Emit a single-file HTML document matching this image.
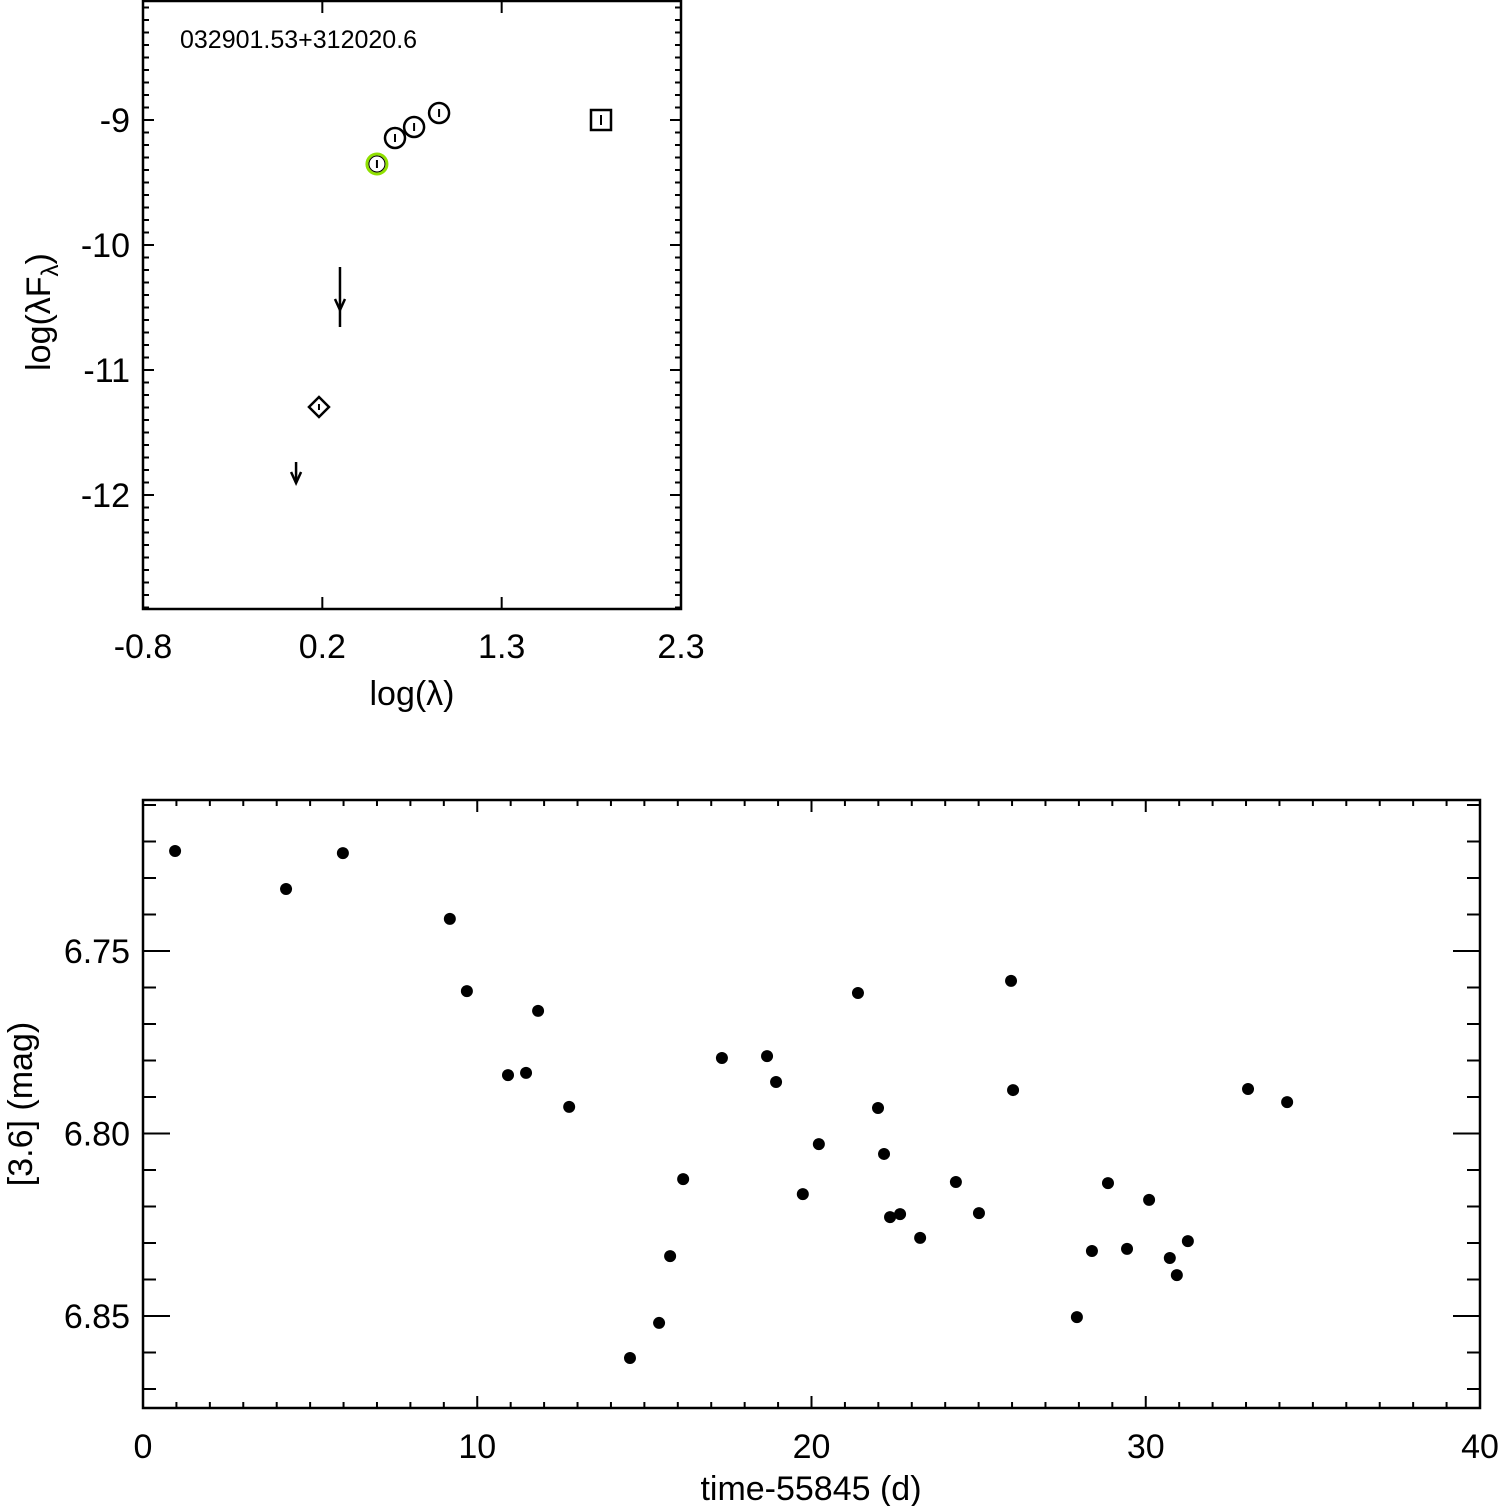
<!DOCTYPE html>
<html><head><meta charset="utf-8"><style>
html,body{margin:0;padding:0;background:#fff;}
svg{display:block;font-family:"Liberation Sans",sans-serif;}
</style></head><body>
<svg id="chart" width="1500" height="1506" viewBox="0 0 1500 1506">
<g id="sedPanel"></g>
<g id="lcPanel"></g>
</svg>
<script>
// SED panel data
const sedCircleX = [0.652, 0.762, 0.906];
const sedCircleY = [-9.144, -9.056, -8.944];
const sedGreenX = [0.548];
const sedGreenY = [-9.352];
const sedSquareX = [1.839];
const sedSquareY = [-9.0];
const sedDiamondX = [0.214];
const sedDiamondY = [-11.296];
const sedArrowX = [0.335, 0.082];
const sedArrowTop = [-10.176, -11.736];
const sedArrowBottom = [-10.656, -11.904];
const sedArrowHead = [-10.52, -11.904];
const sedXTicks = [-0.8, 0.2333, 1.2667, 2.3];
const sedXTickLabels = ["-0.8", "0.2", "1.3", "2.3"];
const sedYTicks = [-9, -10, -11, -12];
const sedYTickLabels = ["-9", "-10", "-11", "-12"];
// Light curve data
const lcTime = [0.96,4.28,5.98,9.18,9.69,11.82,10.92,11.46,12.75,14.57,15.44,15.77,16.16,17.32,18.67,18.94,19.74,20.22,21.39,21.99,22.17,22.35,22.65,23.25,24.32,25.01,25.97,26.03,27.94,28.39,28.87,29.44,30.10,30.72,30.93,31.26,33.06,34.23];
const lcMag = [6.7226,6.7330,6.7232,6.7412,6.7610,6.7664,6.7840,6.7834,6.7927,6.8615,6.8519,6.8336,6.8125,6.7793,6.7788,6.7859,6.8166,6.8029,6.7615,6.7930,6.8056,6.8229,6.8221,6.8286,6.8133,6.8218,6.7582,6.7881,6.8503,6.8322,6.8136,6.8316,6.8182,6.8341,6.8388,6.8295,6.7878,6.7914];
const lcXTicks = [0,10,20,30,40];
const lcXTickLabels = ["0","10","20","30","40"];
const lcYTicks = [6.75,6.80,6.85];
const lcYTickLabels = ["6.75","6.80","6.85"];

const NS="http://www.w3.org/2000/svg";
function mk(parent,tag,attrs){const e=document.createElementNS(NS,tag);for(const k in attrs)e.setAttribute(k,attrs[k]);parent.appendChild(e);return e;}

// SED axes
const T={x0:143,x1:681,y0:1,y1:609};
const sx=v=>T.x0+(v+0.8)/3.1*(T.x1-T.x0);
const sy=v=>120+(-9-v)*125;
const gTop=document.getElementById('sedPanel');
let rr=mk(gTop,'rect',{x:T.x0,y:T.y0,width:T.x1-T.x0,height:T.y1-T.y0,fill:'none',stroke:'#000','stroke-width':2.5});


for(let k=-129;k<=-81;k++){const v=k/10;const y=sy(v);const maj=k%10===0;const L=maj?11:6;
 mk(gTop,'line',{x1:T.x0,x2:T.x0+L,y1:y,y2:y,stroke:'#000','stroke-width':2});
 mk(gTop,'line',{x1:T.x1,x2:T.x1-L,y1:y,y2:y,stroke:'#000','stroke-width':2});}
sedXTicks.forEach((v,i)=>{const x=sx(v);
 mk(gTop,'line',{x1:x,x2:x,y1:T.y1,y2:T.y1-12,stroke:'#000','stroke-width':2});
 mk(gTop,'line',{x1:x,x2:x,y1:T.y0,y2:T.y0+12,stroke:'#000','stroke-width':2});
 const t=mk(gTop,'text',{x:x,y:658,'text-anchor':'middle','font-size':34});t.textContent=sedXTickLabels[i];
 
 });
sedYTicks.forEach((v,i)=>{const t=mk(gTop,'text',{x:130,y:sy(v)+12,'text-anchor':'end','font-size':34});t.textContent=sedYTickLabels[i];
 
 });
let tt=mk(gTop,'text',{x:412,y:705,'text-anchor':'middle','font-size':34});tt.textContent='log(λ)';


tt=mk(gTop,'text',{x:0,y:0,'text-anchor':'middle','font-size':34,transform:'translate(50,312) rotate(-90)'});
tt.innerHTML='log(λF<tspan font-size="24" dy="8">λ</tspan><tspan dy="-8">)</tspan>';


tt=mk(gTop,'text',{x:180,y:48,'font-size':25});tt.textContent='032901.53+312020.6';


sedCircleX.forEach((v,i)=>{const g=mk(gTop,'g',{});
 
 
 const cx=sx(v),cy=sy(sedCircleY[i]);
 mk(g,'circle',{cx,cy,r:10,fill:'none',stroke:'#000','stroke-width':2.5});
 mk(g,'line',{x1:cx,x2:cx,y1:cy-4,y2:cy+4,stroke:'#000','stroke-width':2});});
sedGreenX.forEach((v,i)=>{const g=mk(gTop,'g',{});
 
 
 const cx=sx(v),cy=sy(sedGreenY[i]);
 mk(g,'circle',{cx,cy,r:10,fill:'none',stroke:'#8fe000','stroke-width':3});
 mk(g,'circle',{cx,cy,r:8,fill:'none',stroke:'#000','stroke-width':1});
 mk(g,'line',{x1:cx,x2:cx,y1:cy-4,y2:cy+4,stroke:'#000','stroke-width':2});});
sedSquareX.forEach((v,i)=>{const g=mk(gTop,'g',{});
 
 
 const cx=sx(v),cy=sy(sedSquareY[i]);
 mk(g,'rect',{x:cx-10,y:cy-10,width:20,height:20,fill:'none',stroke:'#000','stroke-width':2.5});
 mk(g,'line',{x1:cx,x2:cx,y1:cy-5,y2:cy+5,stroke:'#000','stroke-width':2});});
sedDiamondX.forEach((v,i)=>{const g=mk(gTop,'g',{});
 
 
 const cx=sx(v),cy=sy(sedDiamondY[i]);
 mk(g,'polygon',{points:`${cx},${cy-10} ${cx+10},${cy} ${cx},${cy+10} ${cx-10},${cy}`,fill:'none',stroke:'#000','stroke-width':2.5});
 mk(g,'line',{x1:cx,x2:cx,y1:cy-3,y2:cy+3,stroke:'#000','stroke-width':2});});
sedArrowX.forEach((v,i)=>{const g=mk(gTop,'g',{});
 
 
 const x=sx(v),y1=sy(sedArrowTop[i]),y2=sy(sedArrowBottom[i]),yh=sy(sedArrowHead[i]);
 mk(g,'line',{x1:x,x2:x,y1:y1,y2:y2,stroke:'#000','stroke-width':2.5});
 mk(g,'polyline',{points:`${x-5},${yh-11} ${x},${yh} ${x+5},${yh-11}`,fill:'none',stroke:'#000','stroke-width':2.5});});

// Light curve
const B={x0:143,x1:1480,y0:800,y1:1408};
const bx=t=>B.x0+t/40*(B.x1-B.x0);
const by=v=>951+(v-6.75)*3650;
const gBot=document.getElementById('lcPanel');
rr=mk(gBot,'rect',{x:B.x0,y:B.y0,width:B.x1-B.x0,height:B.y1-B.y0,fill:'none',stroke:'#000','stroke-width':2.5});


for(let t=0;t<=40;t++){const x=bx(t);const maj=t%10===0;const L=maj?12:6;
 mk(gBot,'line',{x1:x,x2:x,y1:B.y1,y2:B.y1-L,stroke:'#000','stroke-width':2});
 mk(gBot,'line',{x1:x,x2:x,y1:B.y0,y2:B.y0+L,stroke:'#000','stroke-width':2});}
for(let k=671;k<=687;k++){const v=k/100;const y=by(v);if(y<B.y0||y>B.y1)continue;const maj=k%5===0;const L=maj?27:13;
 mk(gBot,'line',{x1:B.x0,x2:B.x0+L,y1:y,y2:y,stroke:'#000','stroke-width':2});
 mk(gBot,'line',{x1:B.x1,x2:B.x1-L,y1:y,y2:y,stroke:'#000','stroke-width':2});}
lcXTicks.forEach((v,i)=>{const t=mk(gBot,'text',{x:bx(v),y:1458,'text-anchor':'middle','font-size':34});t.textContent=lcXTickLabels[i];
 
 });
lcYTicks.forEach((v,i)=>{const t=mk(gBot,'text',{x:130,y:by(v)+12,'text-anchor':'end','font-size':34});t.textContent=lcYTickLabels[i];
 
 });
tt=mk(gBot,'text',{x:811,y:1500,'text-anchor':'middle','font-size':34});tt.textContent='time-55845 (d)';


tt=mk(gBot,'text',{x:0,y:0,'text-anchor':'middle','font-size':34,transform:'translate(32,1104) rotate(-90)'});tt.textContent='[3.6] (mag)';


lcTime.forEach((t,i)=>{const c=mk(gBot,'circle',{cx:bx(t),cy:by(lcMag[i]),r:6,fill:'#000'});
 
 });
</script>
</body></html>
